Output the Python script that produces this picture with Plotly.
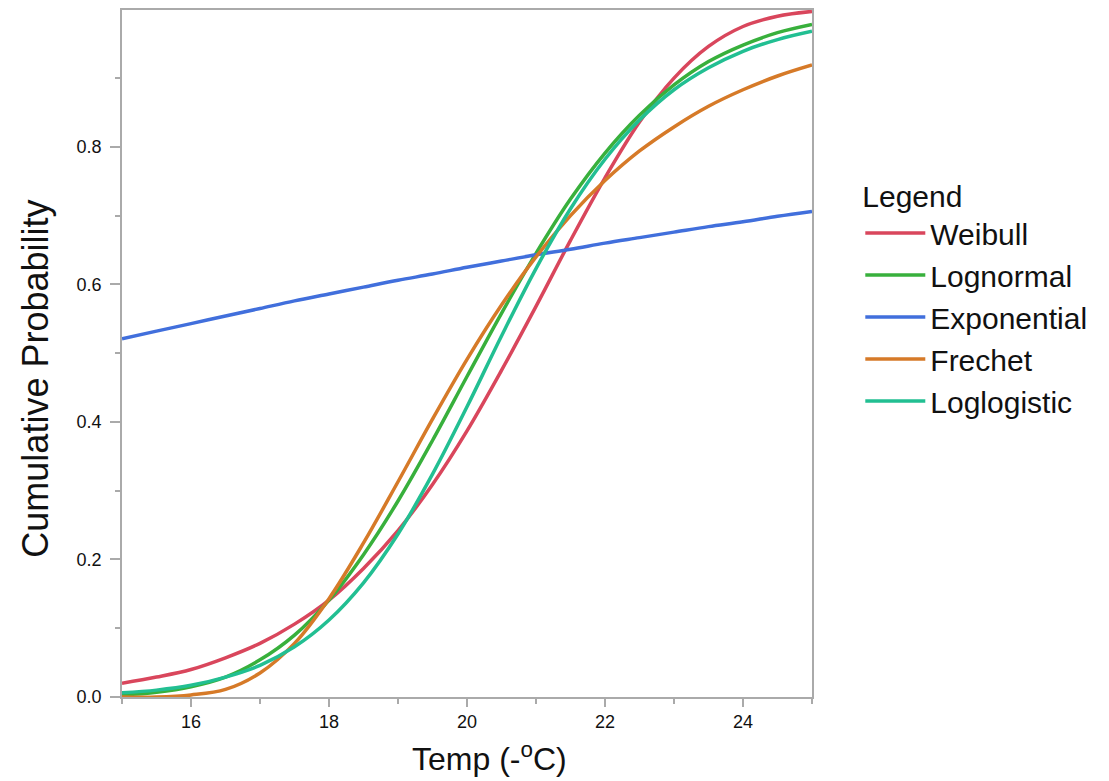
import plotly.graph_objects as go

# temperature grid (-oC) and cumulative probabilities
temp = [15, 15.5, 16, 16.5, 17, 17.5, 18, 18.5, 19, 19.5, 20,
        20.5, 21, 21.5, 22, 22.5, 23, 23.5, 24, 24.5, 25]

weibull = [0.020, 0.029, 0.040, 0.057, 0.078, 0.106, 0.141, 0.187, 0.242, 0.309, 0.387,
           0.475, 0.568, 0.664, 0.755, 0.836, 0.900, 0.946, 0.975, 0.990, 0.997]
lognormal = [0.003, 0.007, 0.015, 0.029, 0.054, 0.090, 0.141, 0.207, 0.285, 0.373, 0.466,
             0.558, 0.645, 0.724, 0.791, 0.846, 0.890, 0.924, 0.948, 0.966, 0.978]
exponential = [0.521, 0.532, 0.543, 0.554, 0.565, 0.576, 0.586, 0.596, 0.606, 0.615, 0.625,
               0.634, 0.643, 0.651, 0.660, 0.668, 0.676, 0.684, 0.691, 0.699, 0.706]
frechet = [0.000, 0.000, 0.003, 0.011, 0.035, 0.078, 0.143, 0.224, 0.313, 0.404, 0.491,
           0.570, 0.640, 0.700, 0.751, 0.794, 0.829, 0.859, 0.883, 0.903, 0.919]
loglogistic = [0.006, 0.010, 0.017, 0.029, 0.046, 0.073, 0.112, 0.166, 0.237, 0.324, 0.422,
               0.525, 0.623, 0.710, 0.782, 0.839, 0.883, 0.915, 0.939, 0.956, 0.968]

series = [
    ("Weibull", weibull, "#d9465c"),
    ("Lognormal", lognormal, "#38b03c"),
    ("Exponential", exponential, "#416fdc"),
    ("Frechet", frechet, "#d67a28"),
    ("Loglogistic", loglogistic, "#22bf92"),
]

fig = go.Figure()
for name, vals, color in series:
    fig.add_trace(go.Scatter(
        x=temp, y=vals, mode="lines", name=name,
        line=dict(color=color, width=3.5, shape="spline", smoothing=1.0),
    ))

axis_common = dict(
    showline=True, linecolor="#aaaaaa", linewidth=1.5, mirror=True,
    showgrid=False, zeroline=False,
    ticks="outside", tickcolor="#aaaaaa", tickwidth=1.5,
    tickfont=dict(size=18, color="#111111"),
)

fig.update_xaxes(
    range=[15, 25], tick0=16, dtick=2, ticklen=8,
    minor=dict(dtick=1, tick0=15, ticks="outside", ticklen=5, tickcolor="#aaaaaa"),
    **axis_common,
)
fig.update_yaxes(
    range=[0, 0.999], tick0=0, dtick=0.2, tickformat=".1f", ticklen=10,
    ticklabelstandoff=5,
    minor=dict(dtick=0.1, ticks="outside", ticklen=5, tickcolor="#aaaaaa"),
    **axis_common,
)

# axis titles placed as annotations (they sit off-centre in the original)
fig.add_annotation(
    text="Cumulative Probability", textangle=-90, showarrow=False,
    xref="paper", yref="paper", x=-0.125, y=0.463,
    xanchor="center", yanchor="middle", font=dict(size=36, color="#111111"),
)
fig.add_annotation(
    text="Temp (-<sup>o</sup>C)", showarrow=False,
    xref="paper", yref="paper", x=0.533, y=-0.088,
    xanchor="center", yanchor="middle", font=dict(size=32, color="#111111"),
)

fig.update_layout(
    width=1101, height=773,
    margin=dict(l=114, r=297, t=0, b=84),
    paper_bgcolor="white", plot_bgcolor="white",
    font=dict(family="Liberation Sans, Arial, sans-serif", color="#111111"),
    legend=dict(
        title=dict(text="Legend", font=dict(size=30)),
        font=dict(size=30), x=1.07, y=0.77, xanchor="left", yanchor="top",
        tracegroupgap=0, itemwidth=60,
    ),
)

fig.write_html("out.html")
